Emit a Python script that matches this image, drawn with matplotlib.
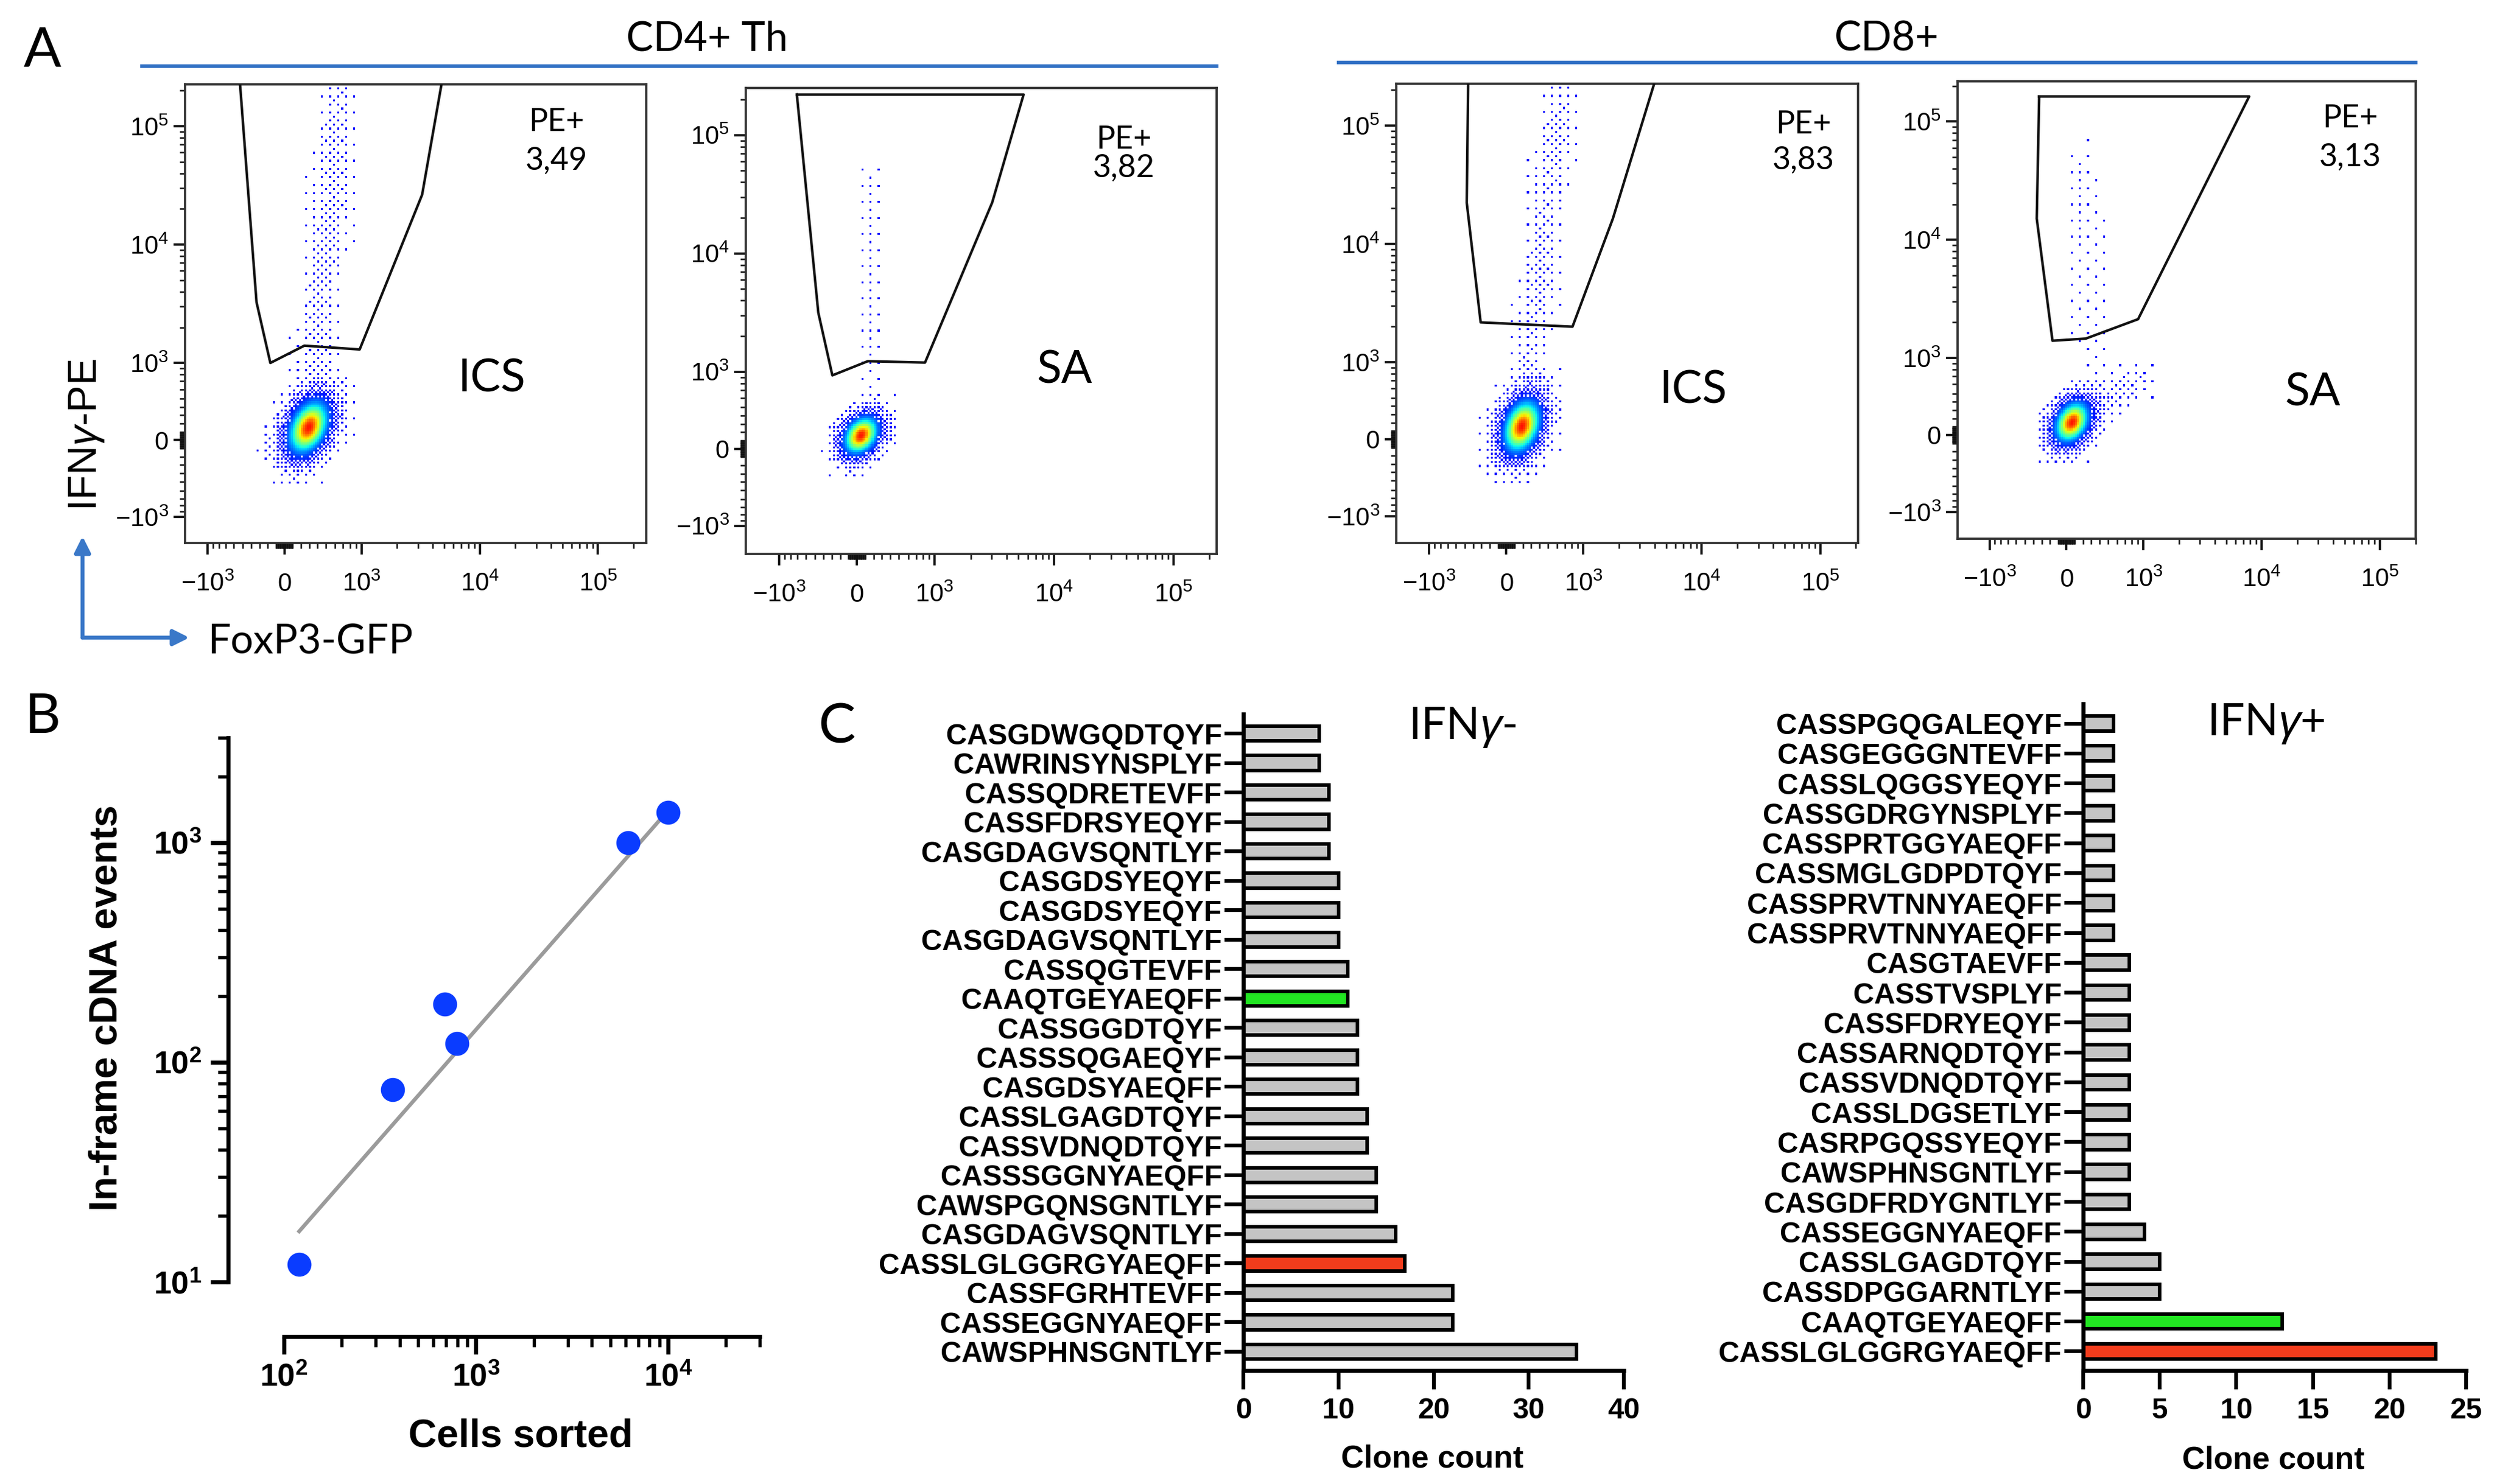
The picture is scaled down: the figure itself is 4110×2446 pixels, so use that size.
import matplotlib.pyplot as plt
import numpy as np
from matplotlib.ticker import FixedLocator, FuncFormatter, LogLocator, NullFormatter
from matplotlib.patches import FancyArrowPatch
from matplotlib.lines import Line2D

plt.rcParams['font.family'] = ['Liberation Sans', 'DejaVu Sans']
plt.rcParams['mathtext.fontset'] = 'custom'
plt.rcParams['mathtext.rm'] = 'Liberation Sans'
plt.rcParams['mathtext.it'] = 'Liberation Sans:italic'
plt.rcParams['mathtext.bf'] = 'Liberation Sans:bold'

#%% DATA
# ---- A: flow plots (FoxP3-GFP vs IFNg-PE) ----
flow_group = ['CD4+ Th', 'CD8+']
flow_sample = ['ICS', 'SA', 'ICS', 'SA']
pe_pct = ['3,49', '3,82', '3,83', '3,13']

# IFNg+ gates, vertices in fluorescence units
gate_gfp = [[-593, -337, -170, 241, 966, 3260, 6170],
            [-710, -461, -293, 131, 830, 3030, 5550],
            [-450, -478, -310, 809, 1775, 6240],
            [-330, -359, -169, 234, 900, 7820]]
gate_pe = [[1e6, 3260, 1000, 1400, 1300, 26400, 1e6],
           [2.2e5, 3150, 931, 1227, 1194, 26900, 2.2e5],
           [1e6, 22300, 2170, 1995, 16400, 1e6],
           [1.63e5, 15100, 1400, 1460, 2130, 1.63e5]]

# main (IFNg-) population: centre and spread (spread in display decades)
core_gfp = [293, 51, 188, 66]
core_pe = [154, 161, 155, 155]
core_sd_gfp = [0.13, 0.11, 0.12, 0.11]
core_sd_pe = [0.17, 0.12, 0.17, 0.13]
core_rho = [0.35, 0.3, 0.3, 0.3]

# IFNg+ stream going up through the gate
tail_gfp_lo = [343, 114, 250, 286]
tail_gfp_hi = [675, 171, 640, 214]
tail_pe_lo = [629, 706, 629, 889]
tail_pe_hi = [2.2e5, 56000, 2.2e5, 56000]
tail_sd = [0.10, 0.07, 0.09, 0.08]
tail_level = [0.05, 0.02, 0.045, 0.02]

# CD8 SA: activated diagonal spread (gfp, pe, sd_gfp, sd_pe, rho, level)
wing = [None, None, None, (600, 500, 0.18, 0.13, 0.6, 0.06)]

flow_xlim = [(-1545, 2.56e5), (-1900, 2.29e5), (-1900, 2.09e5), (-1860, 2.0e5)]
flow_ylim = [(-1656, 2.26e5), (-1730, 2.5e5), (-1685, 2.26e5), (-1685, 2.19e5)]

# ---- B ----
cells_sorted = [120, 367, 690, 795, 6170, 10000]
cdna_events = [12, 75, 184, 122, 1000, 1370]
fit_cells = [120, 9000]
fit_events = [17, 1260]

# ---- C ----
neg_cdr3 = ['CASGDWGQDTQYF', 'CAWRINSYNSPLYF', 'CASSQDRETEVFF', 'CASSFDRSYEQYF',
            'CASGDAGVSQNTLYF', 'CASGDSYEQYF', 'CASGDSYEQYF', 'CASGDAGVSQNTLYF',
            'CASSQGTEVFF', 'CAAQTGEYAEQFF', 'CASSGGDTQYF', 'CASSSQGAEQYF',
            'CASGDSYAEQFF', 'CASSLGAGDTQYF', 'CASSVDNQDTQYF', 'CASSSGGNYAEQFF',
            'CAWSPGQNSGNTLYF', 'CASGDAGVSQNTLYF', 'CASSLGLGGRGYAEQFF', 'CASSFGRHTEVFF',
            'CASSEGGNYAEQFF', 'CAWSPHNSGNTLYF']
neg_count = [8, 8, 9, 9, 9, 10, 10, 10, 11, 11, 12, 12, 12, 13, 13, 14, 14, 16, 17, 22, 22, 35]

pos_cdr3 = ['CASSPGQGALEQYF', 'CASGEGGGNTEVFF', 'CASSLQGGSYEQYF', 'CASSGDRGYNSPLYF',
            'CASSPRTGGYAEQFF', 'CASSMGLGDPDTQYF', 'CASSPRVTNNYAEQFF', 'CASSPRVTNNYAEQFF',
            'CASGTAEVFF', 'CASSTVSPLYF', 'CASSFDRYEQYF', 'CASSARNQDTQYF',
            'CASSVDNQDTQYF', 'CASSLDGSETLYF', 'CASRPGQSSYEQYF', 'CAWSPHNSGNTLYF',
            'CASGDFRDYGNTLYF', 'CASSEGGNYAEQFF', 'CASSLGAGDTQYF', 'CASSDPGGARNTLYF',
            'CAAQTGEYAEQFF', 'CASSLGLGGRGYAEQFF']
pos_count = [2, 2, 2, 2, 2, 2, 2, 2, 3, 3, 3, 3, 3, 3, 3, 3, 3, 4, 5, 5, 13, 23]

highlight = {'CAAQTGEYAEQFF': '#22e622', 'CASSLGLGGRGYAEQFF': '#f23c1c'}

#%% FIGURE
W, H = 4110, 2446
fig = plt.figure(figsize=(W/300, H/300), dpi=300)
calib = ['Lato', 'DejaVu Sans']
blue_ln = '#2f6fc4'


def box(x0, y0, x1, y1):
    # reference pixel box -> figure fraction rect
    return [x0/W, 1-y1/H, (x1-x0)/W, (y1-y0)/H]


def fx(x):
    return x/W


def fy(y):
    return 1-y/H


LIN, LSC = 500, 0.35   # linear up to 500, then log decades


def to_disp(v):
    v = np.asarray(v, float)
    a = np.abs(v)
    return np.where(a <= LIN, v*LSC/LIN,
                    np.sign(v)*(LSC + np.log10(np.maximum(a, LIN)/LIN)))


def from_disp(t):
    t = np.asarray(t, float)
    a = np.abs(t)
    return np.where(a <= LSC, t*LIN/LSC,
                    np.sign(t)*LIN*10**(np.maximum(a, LSC)-LSC))


def bayer(n):
    m = np.array([[0, 2], [3, 1]])
    while m.shape[0] < n:
        m = np.block([[4*m, 4*m+2], [4*m+3, 4*m+1]])
    return (m+0.5)/m.size


def draw_cloud(ax, i):
    step = 0.017
    te = np.arange(-1.05, 3.2, step)
    tc = te[:-1] + step/2
    TX, TY = np.meshgrid(tc, tc)
    ux, uy = to_disp(core_gfp[i]), to_disp(core_pe[i])
    dx = (TX-ux)/core_sd_gfp[i]
    dy = (TY-uy)/core_sd_pe[i]
    r = core_rho[i]
    core = np.exp(-0.5*(dx*dx - 2*r*dx*dy + dy*dy)/(1-r*r))
    dens = core.copy()
    if wing[i] is not None:
        wx, wy, sx, sy, rr, lv = wing[i]
        dx = (TX-to_disp(wx))/sx
        dy = (TY-to_disp(wy))/sy
        dens += lv*np.exp(-0.5*(dx*dx - 2*rr*dx*dy + dy*dy)/(1-rr*rr))
    ylo, yhi = to_disp(tail_pe_lo[i]), to_disp(tail_pe_hi[i])
    xlo, xhi = to_disp(tail_gfp_lo[i]), to_disp(tail_gfp_hi[i])
    s = (TY-ylo)/(yhi-ylo)
    xc = xlo + s*(xhi-xlo)
    inside = 1/(1+np.exp(-s*25)) / (1+np.exp((s-1)*25))
    dens += tail_level[i]*np.exp(-0.5*((TX-xc)/tail_sd[i])**2)*inside
    p = np.clip(dens/0.4, 0, 1)
    b = bayer(8)
    thr = np.tile(b, (TX.shape[0]//8+1, TX.shape[1]//8+1))[:TX.shape[0], :TX.shape[1]]
    c = 0.12 + 0.77*np.clip(core, 0, 1)**2.2
    V = np.ma.masked_where(p <= thr, c)
    E = from_disp(te)
    ax.pcolormesh(E, E, V, cmap='jet', vmin=0, vmax=1, shading='flat',
                  antialiased=False, rasterized=True, zorder=1)


flow_boxes = [(305, 139, 1065, 895), (1229, 145, 2005, 913),
              (2301, 138, 3062, 895), (3226, 134, 3981, 888)]
pe_x = [0.805, 0.803, 0.882, 0.857]
pe_y = [0.917, 0.889, 0.911, 0.918]
pct_y = [0.833, 0.828, 0.833, 0.834]
sample_xy = [(0.664, 0.358), (0.677, 0.395), (0.643, 0.333), (0.775, 0.320)]

major = [-1000, 0, 1000, 1e4, 1e5]
major_lbl = ['$-10^{3}$', '$0$', '$10^{3}$', '$10^{4}$', '$10^{5}$']
minor = sorted([s*m*10**k for s in (-1, 1) for k in (1, 2) for m in range(1, 10)]
               + [m*10**k for k in (3, 4) for m in range(2, 10)] + [2e5])

for i in range(4):
    ax = fig.add_axes(box(*flow_boxes[i]))
    ax.set_xscale('symlog', linthresh=LIN, linscale=LSC*0.9)
    ax.set_yscale('symlog', linthresh=LIN, linscale=LSC*0.9)
    ax.set_xlim(*flow_xlim[i])
    ax.set_ylim(*flow_ylim[i])
    draw_cloud(ax, i)
    gx = gate_gfp[i] + [gate_gfp[i][0]]
    gy = gate_pe[i] + [gate_pe[i][0]]
    ax.plot(gx, gy, color='#111111', lw=1.0, zorder=3)
    for a in (ax.xaxis, ax.yaxis):
        a.set_major_locator(FixedLocator(major))
        a.set_minor_locator(FixedLocator(minor))
    ax.set_xticklabels(major_lbl)
    ax.set_yticklabels(major_lbl)
    ax.tick_params(which='major', length=4.5, width=0.9, labelsize=10, color='#111111')
    ax.tick_params(which='minor', length=2.2, width=0.6, color='#111111')
    ax.tick_params(axis='x', pad=7)
    ax.tick_params(axis='y', pad=2)
    for sp in ax.spines.values():
        sp.set_linewidth(0.9)
        sp.set_color('#333333')
    ax.text(pe_x[i], pe_y[i], 'PE+', transform=ax.transAxes, ha='center',
            va='center', fontsize=12.5, family=calib)
    ax.text(pe_x[i], pct_y[i], pe_pct[i], transform=ax.transAxes, ha='center',
            va='center', fontsize=12.5, family=calib)
    ax.text(*sample_xy[i], flow_sample[i], transform=ax.transAxes, ha='center',
            va='center', fontsize=18, family=calib)

# group headers and blue rules
for name, cx, (x0, x1, y) in zip(flow_group, [1165, 3109],
                                 [(234, 2005, 109), (2206, 3981, 103)]):
    fig.text(fx(cx), fy(64), name, ha='center', va='center', fontsize=16, family=calib)
    fig.add_artist(Line2D([fx(x0), fx(x1)], [fy(y), fy(y)], transform=fig.transFigure,
                          color=blue_ln, lw=1.4))

fig.text(fx(143), fy(717), 'IFN$\\gamma$-PE', rotation=90, ha='center', va='center',
         fontsize=16)
fig.text(fx(343), fy(1058), 'FoxP3-GFP', ha='left', va='center', fontsize=16, family=calib)
for tip in [(136, 884), (312, 1051)]:
    fig.add_artist(FancyArrowPatch((fx(136), fy(1051)), (fx(tip[0]), fy(tip[1])),
                                   transform=fig.transFigure, arrowstyle='-|>',
                                   mutation_scale=13, lw=1.6, color='#3a78c8',
                                   shrinkA=0, shrinkB=0))

#%% B
axB = fig.add_axes(box(468, 1216, 1252, 2113))
axB.plot(fit_cells, fit_events, color='#9b9b9b', lw=1.5, zorder=2)
axB.plot(cells_sorted, cdna_events, 'o', color='#0a3cff', ms=9.5, mec='none',
         zorder=3, clip_on=False)
axB.set_xscale('log')
axB.set_yscale('log')
axB.set_xlim(100, 30000)
axB.set_ylim(10, 3000)
bold_pow = FuncFormatter(lambda v, p: '$\\mathbf{10^{%d}}$' % round(np.log10(v)))
for a in (axB.xaxis, axB.yaxis):
    a.set_major_locator(LogLocator(base=10, numticks=10))
    a.set_minor_locator(LogLocator(base=10, subs=np.arange(2, 10), numticks=20))
    a.set_major_formatter(bold_pow)
    a.set_minor_formatter(NullFormatter())
axB.spines[['top', 'right']].set_visible(False)
axB.spines['left'].set_position(('outward', 22))
axB.spines['bottom'].set_position(('outward', 21.5))
for sp in ('left', 'bottom'):
    axB.spines[sp].set_linewidth(1.6)
axB.tick_params(which='major', length=7, width=1.6, labelsize=12.5)
axB.tick_params(which='minor', length=4, width=1.3)
axB.set_xlabel('Cells sorted', fontsize=15.5, fontweight='bold')
axB.set_ylabel('In-frame cDNA events', fontsize=15.5, fontweight='bold')
axB.xaxis.set_label_coords(0.497, -0.25)
axB.yaxis.set_label_coords(-0.335, 0.503)


#%% C
def clone_bars(rect, names, counts, xmax, xstep, title, title_xy):
    ax = fig.add_axes(rect)
    n = len(names)
    pos = np.arange(n)[::-1]
    colors = [highlight.get(nm, '#c4c4c4') for nm in names]
    ax.barh(pos, counts, height=0.5, color=colors, edgecolor='black', linewidth=1.4,
            zorder=2)
    ax.set_yticks(pos, names, fontweight='bold')
    ax.set_ylim(-0.64, n-1+0.66)
    ax.set_xlim(0, xmax)
    ax.set_xticks(np.arange(0, xmax+1, xstep))
    for lbl in ax.get_xticklabels():
        lbl.set_fontweight('bold')
    ax.spines[['top', 'right']].set_visible(False)
    for sp in ('left', 'bottom'):
        ax.spines[sp].set_linewidth(1.6)
        ax.spines[sp].set_zorder(3)
    ax.tick_params(axis='y', length=7.5, width=1.5, pad=1, labelsize=11.5)
    ax.tick_params(axis='x', length=7.5, width=1.5, pad=3, labelsize=11.5)
    ax.set_xlabel('Clone count', fontsize=12.5, fontweight='bold')
    ax.xaxis.set_label_coords(0.496, -0.112)
    ax.text(*title_xy, title, transform=ax.transAxes, ha='center', va='center',
            fontsize=17.5, family=calib)
    return ax


clone_bars(box(2049, 1177, 2676, 2259), neg_cdr3, neg_count, 40, 10,
           'IFN$\\gamma$-', (0.576, 0.98))
clone_bars(box(3433, 1160, 4064, 2259), pos_cdr3, pos_count, 25, 5,
           'IFN$\\gamma$+', (0.477, 0.97))

# panel letters
for letter, (x, y) in zip('ABC', [(70, 84), (70, 1182), (1379, 1199)]):
    fig.text(fx(x), fy(y), letter, ha='center', va='center', fontsize=22, family=calib)

fig.savefig('out.png', dpi=300)
